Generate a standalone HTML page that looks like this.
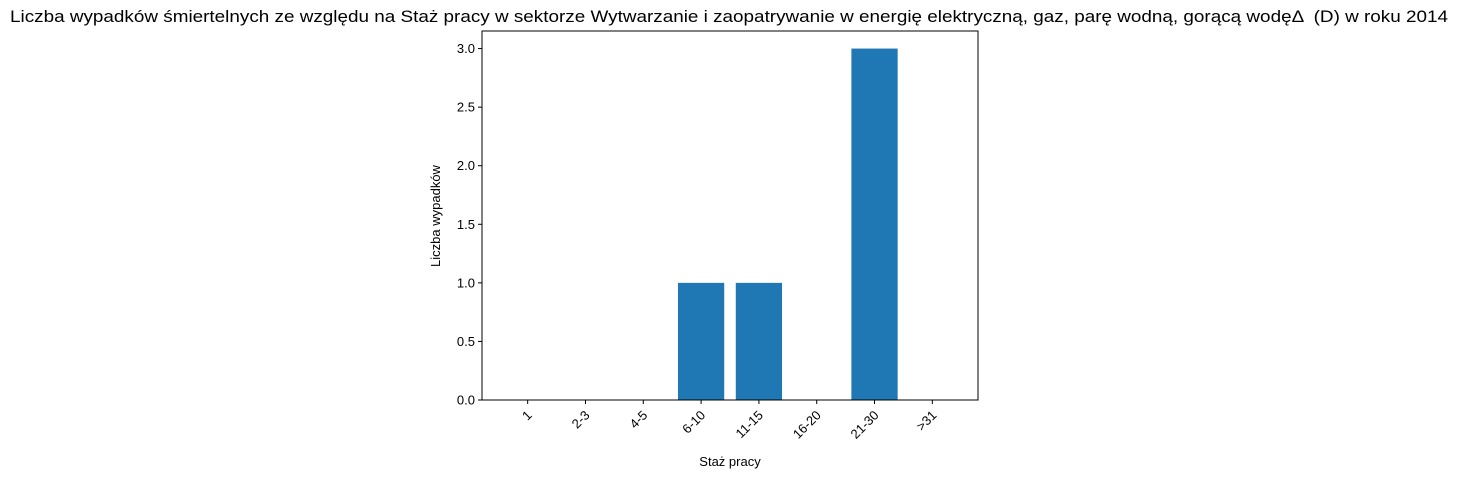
<!DOCTYPE html>
<html><head><meta charset="utf-8"><style>
body{margin:0;background:#fff;}
svg{display:block;font-family:"Liberation Sans","DejaVu Sans",sans-serif;}
</style></head><body>
<svg id="chart" width="1459" height="478">
<text x="10" y="22" font-size="16.5" textLength="1438" lengthAdjust="spacingAndGlyphs" style="white-space:pre">Liczba wypadków śmiertelnych ze względu na Staż pracy w sektorze Wytwarzanie i zaopatrywanie w energię elektryczną, gaz, parę wodną, gorącą wodęΔ  (D) w roku 2014</text>
<g id="plot"></g>
<text x="730" y="466" text-anchor="middle" font-size="13">Staż pracy</text>
<text transform="translate(440,216) rotate(-90)" text-anchor="middle" font-size="13">Liczba wypadków</text>
</svg>
<script>
const categories=["1","2-3","4-5","6-10","11-15","16-20","21-30",">31"];
const values=[0,0,0,1,1,0,3,0];
const yTicks=[0,0.5,1,1.5,2,2.5,3];
const L=482,R=978,T=31,B=400;
const ymax=Math.max(...values)*1.05||1;
const xmin=-0.79,xmax=categories.length-1+0.79;
const xs=v=>L+(v-xmin)/(xmax-xmin)*(R-L);
const ys=v=>B-v/ymax*(B-T);
const NS="http://www.w3.org/2000/svg";
const g=document.getElementById('plot');
function mk(t,a){const e=document.createElementNS(NS,t);for(const k in a)e.setAttribute(k,a[k]);g.appendChild(e);return e;}
values.forEach((v,i)=>{
 const x0=xs(i-0.4),x1=xs(i+0.4);
 const r=mk('rect',{x:x0,y:ys(v),width:x1-x0,height:B-ys(v),fill:'#1f77b4'});
 
 
});
categories.forEach((c,i)=>{
 const x=xs(i);
 const l=mk('line',{x1:x,x2:x,y1:B,y2:B+4,stroke:'#000'});
 
 
 const t=mk('text',{x:x+5,y:B+16,'text-anchor':'end','font-size':'13',transform:`rotate(-45 ${x+5} ${B+16})`});
 t.textContent=c;
 
 
});
yTicks.forEach(v=>{
 const y=ys(v);
 const l=mk('line',{x1:L-4,x2:L,y1:y,y2:y,stroke:'#000'});
 
 
 const t=mk('text',{x:L-7,y:y+4.5,'text-anchor':'end','font-size':'13'});
 t.textContent=v.toFixed(1);
 
 
});
const f=mk('rect',{x:L,y:T,width:R-L,height:B-T,fill:'none',stroke:'#000','stroke-width':1});


</script>
</body></html>
